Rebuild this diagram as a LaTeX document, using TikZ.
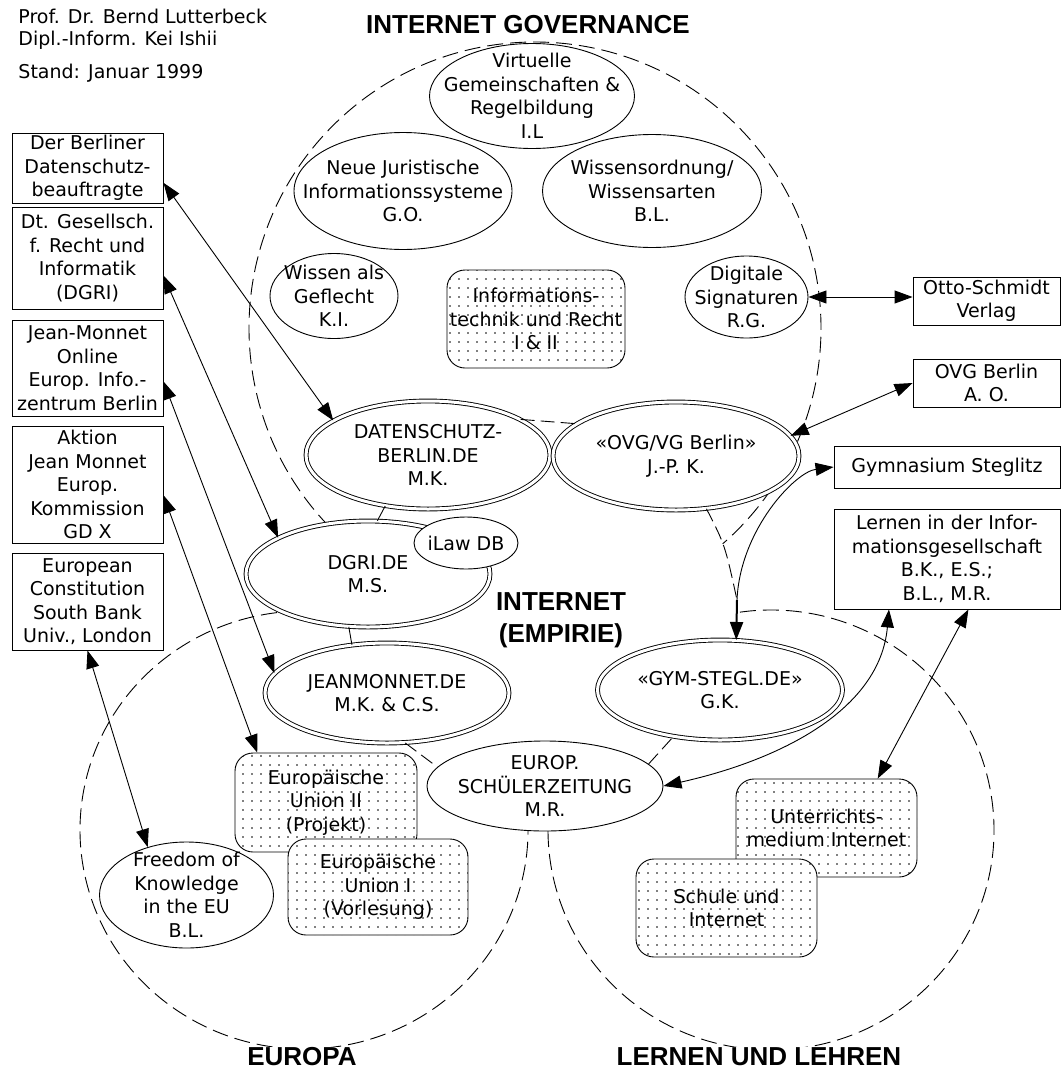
\documentclass[tikz,border=0pt]{standalone}
\usepackage{fontspec}
\setmainfont{DejaVu Sans}
\newfontfamily\headfont{Liberation Sans}
\usetikzlibrary{arrows.meta,shapes.geometric,patterns.meta}

\begin{document}
\begin{tikzpicture}[x=1pt,y=-1pt,
		font=\fontsize{19}{23.5}\selectfont,
		line width=0.9pt,
		>={Triangle[length=18pt,width=13pt]},
		venn/.style={dash pattern=on 16pt off 7pt},
		link/.style={dash pattern=on 14pt off 6pt},
		oval/.style={ellipse,draw,fill=white,inner sep=0pt},
		dbl/.style={oval,double,double distance=3pt},
		tbox/.style={draw,fill=white,align=center,inner sep=0pt},
		dotbox/.style={draw,rounded corners=18pt,preaction={fill=white},pattern={Dots[distance=9pt,radius=0.9pt]},align=center,inner sep=0pt},
		otext/.style={align=center,inner sep=0pt},
		region/.style={font=\headfont\bfseries\fontsize{26}{32}\selectfont,align=center,fill=white,inner sep=1pt}]
			\useasboundingbox (0,0) rectangle (1062,1071);
			\draw[venn] (535,328) ++(136:286) arc[start angle=136,end angle=409,radius=286]; % internet governance field
			\draw[venn] (304,830) ++(-15:224 and 219) arc[start angle=-15,end angle=280,x radius=224,y radius=219]; % europa field
			\draw[venn] (771,830) ++(262:223 and 220) arc[start angle=262,end angle=555,x radius=223,y radius=220]; % lernen field
			\node[anchor=west,inner sep=0pt] (prof) at (18,16) {Prof. Dr. Bernd Lutterbeck};
			\node[anchor=west,inner sep=0pt] (dipl) at (18,40) {Dipl.-Inform. Kei Ishii};
			\node[anchor=west,inner sep=0pt] (stand) at (18,73) {Stand: Januar 1999};
			% boxes on the left
			\node[tbox,minimum width=151,minimum height=70] (dbd) at (87.5,168) {Der Berliner\\Datenschutz-\\beauftragte};
			\node[tbox,minimum width=151,minimum height=102] (dgr) at (87.5,258) {Dt. Gesellsch.\\f. Recht und\\Informatik\\(DGRI)};
			\node[tbox,minimum width=151,minimum height=96] (jmb) at (87.5,368) {Jean-Monnet\\Online\\Europ. Info.-\\zentrum Berlin};
			\node[tbox,minimum width=151,minimum height=117] (ajm) at (87.5,484.5) {Aktion\\Jean Monnet\\Europ.\\Kommission\\GD X};
			\node[tbox,minimum width=151,minimum height=97] (euc) at (87.5,601.5) {European\\Constitution\\South Bank\\Univ., London};
			% boxes on the right
			\node[tbox,minimum width=147,minimum height=48] (osv) at (986.5,301) {Otto-Schmidt\\Verlag};
			\node[tbox,minimum width=147,minimum height=48] (ovgb) at (986.5,383) {OVG Berlin\\A. O.};
			\node[tbox,minimum width=226,minimum height=42] (gyst) at (947,467) {Gymnasium Steglitz};
			\node[tbox,minimum width=226,minimum height=100] (lig) at (947,559) {Lernen in der Infor-\\mationsgesellschaft\\B.K., E.S.;\\B.L., M.R.};
			% governance topics
			\node[oval,minimum width=205,minimum height=105,label={[otext]center:{Virtuelle\\Gemeinschaften \&\\Regelbildung\\I.L}}] (vgr) at (532,96) {};
			\node[oval,minimum width=218,minimum height=117,label={[otext]center:{Neue Juristische\\Informationssysteme\\G.O.}}] (njis) at (403,191) {};
			\node[oval,minimum width=219,minimum height=113,label={[otext]center:{Wissensordnung/\\Wissensarten\\B.L.}}] (wow) at (652,191) {};
			\node[oval,minimum width=128,minimum height=85,label={[otext]center:{Wissen als\\Geflecht\\K.I.}}] (wag) at (334,296) {};
			\node[oval,minimum width=123,minimum height=82,label={[otext]center:{Digitale\\Signaturen\\R.G.}}] (dig) at (746.5,297) {};
			\node[dotbox,minimum width=178,minimum height=98] (itr) at (536,319) {Informations-\\technik und Recht\\I \& II};
			% web projects
			\node[dbl,minimum width=244,minimum height=108,label={[otext]center:{DATENSCHUTZ-\\BERLIN.DE\\M.K.}}] (dsb) at (428,455) {};
			\node[dbl,minimum width=246,minimum height=108,label={[otext]center:{«OVG/VG Berlin»\\J.-P. K.}}] (ovg) at (676,456) {};
			\node[dbl,minimum width=244,minimum height=106,label={[otext]center:{DGRI.DE\\M.S.}}] (dgri) at (368,574) {};
			\node[oval,minimum width=104,minimum height=52,label={[otext]center:{iLaw DB}}] (ilaw) at (466,543) {};
			\node[dbl,minimum width=244,minimum height=100,label={[otext]center:{JEANMONNET.DE\\M.K. \& C.S.}}] (jmo) at (387,693) {};
			\node[dbl,minimum width=245,minimum height=100,label={[otext]center:{«GYM-STEGL.DE»\\G.K.}}] (gym) at (720,690) {};
			\node[oval,minimum width=236,minimum height=90,label={[otext]center:{EUROP.\\SCHÜLERZEITUNG\\M.R.}}] (europ) at (545,786) {};
			% europa topics
			\node[dotbox,minimum width=182,minimum height=99] (eu2) at (326,802.5) {Europäische\\Union II\\(Projekt)};
			\node[dotbox,minimum width=180,minimum height=96] (eu1) at (378,887) {Europäische\\Union I\\(Vorlesung)};
			\node[oval,minimum width=174,minimum height=106,label={[otext]center:{Freedom of\\Knowledge\\in the EU\\B.L.}}] (fok) at (186.5,895) {};
			% lernen topics
			\node[dotbox,minimum width=181,minimum height=98] (umi) at (826.5,828) {Unterrichts-\\medium Internet};
			\node[dotbox,minimum width=181,minimum height=98] (sui) at (726.5,908) {Schule und\\Internet};
			% connections
			\draw[<->] (dbd.-11) -- (dsb.160);
			\draw[<->] (dgr.-13) -- (dgri.158);
			\draw[<->] (jmb.-10) -- (jmo.170);
			\draw[<->] (ajm.-8) -- (eu2.144);
			\draw[<->] (euc.south) -- (fok.129);
			\draw[<->] (dig.east) -- (dig.east -| osv.west);
			\draw[<->] (ovgb.west) -- (ovg.10);
			\coordinate (gymin) at (737,600); % where the two lines meet above gym
			\draw[<-] (gyst.west) .. controls (795,472) and (740,530) .. (gymin);
			\draw[link] (ovg.-60) .. controls (725,545) .. (gymin);
			\draw[->,line width=2pt] (gymin) -- (gym.72);
			\draw (dsb.-130) -- (dgri.80);
			\draw (dgri.-110) -- (jmo.126);
			\draw[link] (dsb.21) -- (ovg.162);
			\draw[link] (jmo.-70) -- (europ.170);
			\draw[link] (europ.12) -- (gym.-135);
			\draw[<->] (lig.-139) .. controls (880,710) and (780,760) .. (europ.east);
			\draw[<->] (lig.-67) -- (umi.44);
			% field names
			\node[region] (igov) at (528,25) {INTERNET GOVERNANCE};
			\node[region] (iemp) at (561,620) {INTERNET\\(EMPIRIE)};
			\node[region] (eur) at (302,1057) {EUROPA};
			\node[region] (lul) at (759,1057) {LERNEN UND LEHREN};
		\end{tikzpicture}
\end{document}
